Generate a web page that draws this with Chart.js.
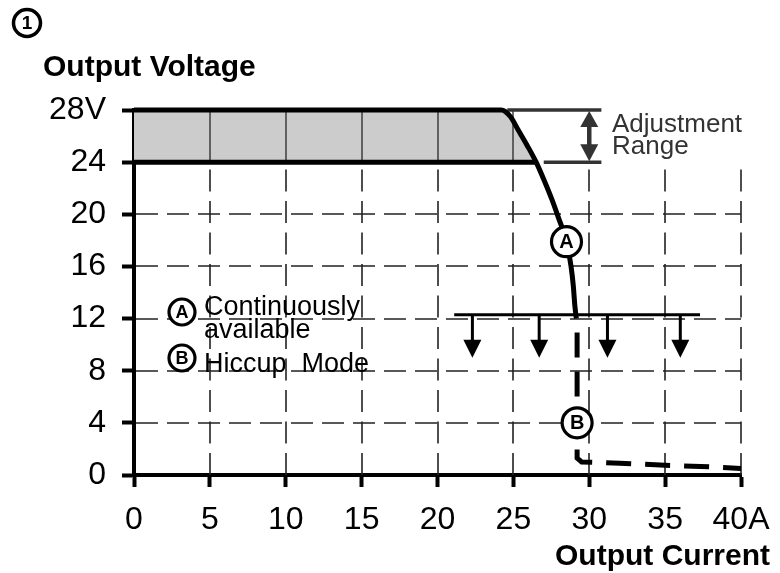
<!DOCTYPE html>
<html><head><meta charset="utf-8">
<script src="https://cdn.jsdelivr.net/npm/chart.js@4/dist/chart.umd.min.js"></script>
<style>html,body{margin:0;padding:0;background:#fff;}</style>
</head><body>
<canvas id="c" width="780" height="573"></canvas>
<script>
// ---- data ----
const xTicks = [0, 5, 10, 15, 20, 25, 30, 35, 40];
const yTicks = [0, 4, 8, 12, 16, 20, 24, 28];
const xUnit = 'A';
const yUnit = 'V';
// curve A: continuously available
const curveAX = [0, 24.2, 24.8, 25.3, 25.9, 26.5, 27.1, 27.55, 27.95, 28.5, 28.8, 28.95, 29.05, 29.15];
const curveAY = [28, 28, 27.5, 26.5, 25.3, 24, 22.4, 21.1, 19.8, 17.9, 16.0, 14.5, 13.0, 12];
// minimum setting line (24 V)
const minLineX = [0, 26.5];
const minLineY = [24, 24];
// curve B: hiccup mode
const hiccupX = [29.2, 29.2, 29.5, 32, 35, 38, 40];
const hiccupY = [12, 1.3, 1.0, 0.9, 0.75, 0.62, 0.5];
// overload threshold bar with arrows
const barX = [21.1, 37.3];
const barY = [12.3, 12.3];
const arrowX = [22.3, 26.7, 31.2, 36.0];
const arrowTipY = 9.0;
// adjustment range marker
const adjTopX = [24.6, 30.8];
const adjTopY = [28, 28];
const adjBotX = [27.0, 30.8];
const adjBotY = [24, 24];
const adjArrowX = 30;
const adjRange = [24, 28];
// circle labels on curves
const labelA = {x: 28.5, y: 17.9, t: 'A'};
const labelB = {x: 29.2, y: 4.0, t: 'B'};

const pts = (xs, ys) => xs.map((x, i) => ({x: x, y: ys[i]}));
const bandPts = pts(curveAX, curveAY).filter(p => p.y >= 24);

const FONT = "'Liberation Sans', Arial, sans-serif";

function circleLabel(ctx, cx, cy, r, t, fs, lw) {
  ctx.save();
  ctx.beginPath();
  ctx.arc(cx, cy, r, 0, Math.PI * 2);
  ctx.fillStyle = '#fff';
  ctx.fill();
  ctx.lineWidth = lw || 3;
  ctx.strokeStyle = '#000';
  ctx.stroke();
  ctx.fillStyle = '#000';
  ctx.font = 'bold ' + fs + 'px ' + FONT;
  ctx.textAlign = 'center';
  ctx.textBaseline = 'middle';
  ctx.fillText(t, cx, cy + 1);
  ctx.restore();
}

function arrowHead(ctx, x, tipY, dir, w, h) {
  ctx.beginPath();
  ctx.moveTo(x, tipY);
  ctx.lineTo(x - w / 2, tipY - dir * h);
  ctx.lineTo(x + w / 2, tipY - dir * h);
  ctx.closePath();
  ctx.fill();
}

const decor = {
  id: 'decor',
  beforeDatasetsDraw(chart) {
    const {ctx, scales: {x, y}} = chart;
    ctx.save();
    ctx.strokeStyle = '#222';
    ctx.lineWidth = 1.6;
    ctx.setLineDash([22, 9]);
    // horizontal dashed grid (below 24 V)
    yTicks.filter(v => v > 0 && v < 24).forEach(v => {
      const py = Math.round(y.getPixelForValue(v));
      ctx.beginPath();
      ctx.moveTo(x.getPixelForValue(0) + 2, py);
      ctx.lineTo(x.getPixelForValue(40), py);
      ctx.stroke();
    });
    // vertical dashed grid (0..24 V), drawn upward from the axis
    ctx.setLineDash([22, 9.5]);
    xTicks.filter(v => v > 0).forEach(v => {
      const px = Math.round(x.getPixelForValue(v));
      ctx.beginPath();
      ctx.moveTo(px, y.getPixelForValue(0));
      ctx.lineTo(px, y.getPixelForValue(24) + 3);
      ctx.stroke();
    });
    ctx.restore();
  },
  afterDatasetDraw(chart, args) {
    if (args.index !== 0) return;
    const {ctx, scales: {x, y}} = chart;
    ctx.save();
    ctx.strokeStyle = '#333';
    ctx.lineWidth = 1.4;
    xTicks.filter(v => v > 0 && v <= 25).forEach(v => {
      const px = Math.round(x.getPixelForValue(v));
      ctx.beginPath();
      ctx.moveTo(px, y.getPixelForValue(24));
      ctx.lineTo(px, y.getPixelForValue(28));
      ctx.stroke();
    });
    ctx.restore();
  },
  afterDatasetsDraw(chart) {
    const {ctx, scales: {x, y}} = chart;
    ctx.save();
    // overload arrows
    ctx.fillStyle = '#000';
    ctx.strokeStyle = '#000';
    ctx.lineWidth = 3;
    const by = y.getPixelForValue(barY[0]);
    const ty = y.getPixelForValue(arrowTipY);
    arrowX.forEach(v => {
      const px = x.getPixelForValue(v);
      ctx.beginPath();
      ctx.moveTo(px, by);
      ctx.lineTo(px, ty - 14);
      ctx.stroke();
      arrowHead(ctx, px, ty, 1, 18, 18);
    });
    // adjustment range double arrow
    const ax = x.getPixelForValue(adjArrowX);
    const y28 = y.getPixelForValue(adjRange[1]);
    const y24 = y.getPixelForValue(adjRange[0]);
    ctx.fillStyle = '#333';
    ctx.strokeStyle = '#333';
    ctx.lineWidth = 4.5;
    ctx.beginPath();
    ctx.moveTo(ax, y28 + 10);
    ctx.lineTo(ax, y24 - 10);
    ctx.stroke();
    arrowHead(ctx, ax, y28 + 1, -1, 18, 16);
    arrowHead(ctx, ax, y24 - 1, 1, 18, 17);
    ctx.font = '26px ' + FONT;
    ctx.textAlign = 'left';
    ctx.textBaseline = 'alphabetic';
    ctx.fillText('Adjustment', 612, 132);
    ctx.fillText('Range', 612, 154);

    // circle labels on curves
    circleLabel(ctx, x.getPixelForValue(labelA.x), y.getPixelForValue(labelA.y), 15, labelA.t, 20, 3.2);
    circleLabel(ctx, x.getPixelForValue(labelB.x), y.getPixelForValue(labelB.y), 15, labelB.t, 20, 3.2);

    // legend
    circleLabel(ctx, 182, 312, 13, 'A', 18, 3.2);
    circleLabel(ctx, 182, 358, 13, 'B', 18, 3.2);
    ctx.fillStyle = '#000';
    ctx.font = '27px ' + FONT;
    ctx.textAlign = 'left';
    ctx.fillText('Continuously', 204, 315);
    ctx.fillText('available', 204, 338);
    ctx.fillText('Hiccup  Mode', 204, 372);

    // titles
    ctx.font = 'bold 30px ' + FONT;
    ctx.fillText('Output Voltage', 43, 76);
    ctx.textAlign = 'right';
    ctx.fillText('Output Current', 770, 565);
    // circled 1
    ctx.beginPath();
    ctx.arc(27, 23, 13.5, 0, Math.PI * 2);
    ctx.lineWidth = 3.5;
    ctx.strokeStyle = '#000';
    ctx.stroke();
    ctx.font = 'bold 19px ' + FONT;
    ctx.textAlign = 'center';
    ctx.textBaseline = 'middle';
    ctx.fillText('1', 27, 24);
    ctx.restore();
  }
};

const base = {showLine: true, pointRadius: 0, fill: false, clip: false};
new Chart(document.getElementById('c'), {
  type: 'scatter',
  data: {
    datasets: [
      Object.assign({}, base, {label: 'band', data: bandPts, backgroundColor: '#cccccc', borderWidth: 0,
        fill: {value: 24}, cubicInterpolationMode: 'monotone', order: 10}),
      Object.assign({}, base, {label: 'min', data: pts(minLineX, minLineY), borderColor: '#000', borderWidth: 5, order: 3}),
      Object.assign({}, base, {label: 'A', data: pts(curveAX, curveAY), borderColor: '#000', borderWidth: 5,
        cubicInterpolationMode: 'monotone', order: 1}),
      Object.assign({}, base, {label: 'B', data: pts(hiccupX, hiccupY), borderColor: '#000', borderWidth: 5,
        borderDash: [25, 14], borderDashOffset: 25, borderCapStyle: 'butt', order: 2}),
      Object.assign({}, base, {label: 'bar', data: pts(barX, barY), borderColor: '#000', borderWidth: 3, order: 4}),
      Object.assign({}, base, {label: 'adjTop', data: pts(adjTopX, adjTopY), borderColor: '#333', borderWidth: 3.5, order: 5}),
      Object.assign({}, base, {label: 'adjBot', data: pts(adjBotX, adjBotY), borderColor: '#333', borderWidth: 3.5, order: 5})
    ]
  },
  options: {
    responsive: false,
    animation: false,
    devicePixelRatio: 1,
    layout: {padding: {left: 0, right: 39, top: 110, bottom: 0}},
    plugins: {legend: {display: false}, tooltip: {enabled: false}},
    scales: {
      x: {
        type: 'linear', min: 0, max: 40,
        afterBuildTicks: s => { s.ticks = xTicks.map(v => ({value: v})); },
        afterFit: s => { s.height = 573 - 475; s.paddingLeft = 0; s.paddingRight = 0; },
        ticks: {autoSkip: false, maxRotation: 0, color: '#000', padding: 14,
          font: {family: FONT, size: 32},
          callback: v => v === xTicks[xTicks.length - 1] ? v + xUnit : String(v)},
        grid: {drawOnChartArea: false, drawTicks: true, tickLength: 12, tickWidth: 4, tickColor: '#000'},
        border: {display: true, width: 4, color: '#000'}
      },
      y: {
        type: 'linear', min: 0, max: 28,
        afterBuildTicks: s => { s.ticks = yTicks.map(v => ({value: v})); },
        afterFit: s => { s.width = 134; s.paddingTop = 0; s.paddingBottom = 0; },
        ticks: {autoSkip: false, color: '#000', padding: 16,
          font: {family: FONT, size: 32},
          callback: v => v === yTicks[yTicks.length - 1] ? v + yUnit : String(v)},
        grid: {drawOnChartArea: false, drawTicks: true, tickLength: 12, tickWidth: 4, tickColor: '#000'},
        border: {display: true, width: 4, color: '#000'}
      }
    }
  },
  plugins: [decor]
});
</script>
</body></html>
